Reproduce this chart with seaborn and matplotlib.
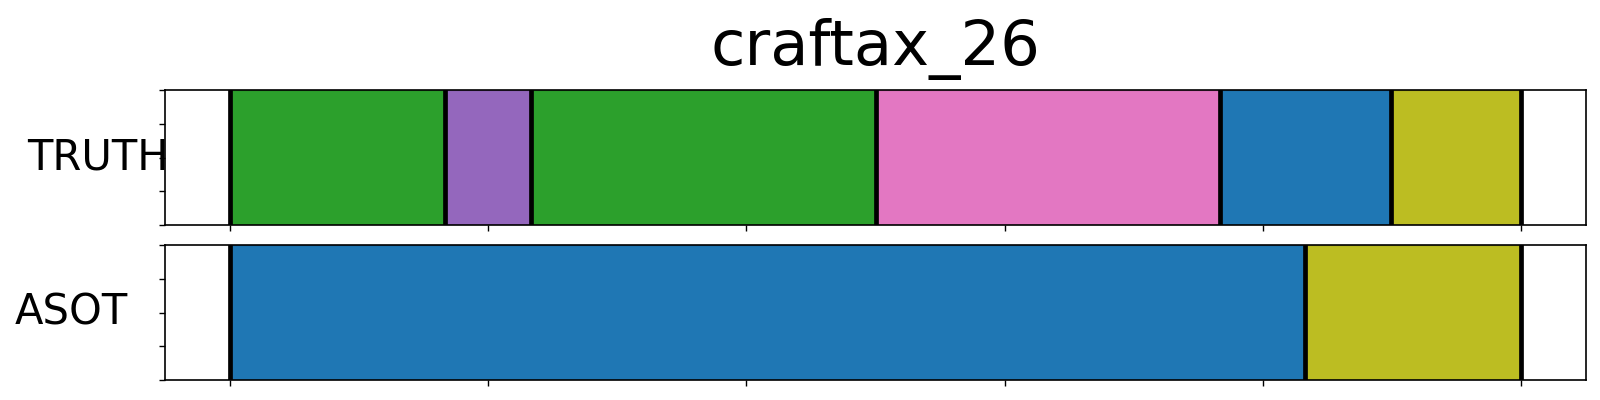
import numpy as np
import pandas as pd
import matplotlib
matplotlib.use("Agg")
import matplotlib.pyplot as plt
import seaborn as sns

sns.set_style("ticks", {"axes.edgecolor": "black", "xtick.color": "black",
                        "ytick.color": "black", "text.color": "black",
                        "axes.labelcolor": "black"})

title = "craftax_26"
n_frames = 250

# segment boundaries (frame index) and action labels for each row
truth_bounds = [0, 41.6, 58.4, 125, 191.6, 224.8, 250]
truth_labels = ["a2", "a4", "a2", "a6", "a0", "a8"]
asot_bounds = [0, 208.2, 250]
asot_labels = ["a0", "a8"]

palette = sns.color_palette("tab10")
colors = {f"a{i}": palette[i] for i in range(10)}

rows = [
    ("TRUTH", truth_bounds, truth_labels),
    ("ASOT", asot_bounds, asot_labels),
]

fig = plt.figure(figsize=(16, 4), dpi=100)
ax_top = fig.add_axes([165 / 1600, 1 - 225 / 400, 1421 / 1600, 135 / 400])
ax_bot = fig.add_axes([165 / 1600, 1 - 380 / 400, 1421 / 1600, 135 / 400])
label_x = [(97.5 - 165) / 1421, (71.5 - 165) / 1421]

for i, (ax, (name, bounds, labels)) in enumerate(zip([ax_top, ax_bot], rows)):
    seg = pd.DataFrame({"start": bounds[:-1], "end": bounds[1:], "label": labels})
    for _, r in seg.iterrows():
        ax.axvspan(r["start"], r["end"], facecolor=colors[r["label"]],
                   edgecolor=tuple(c * 0.85 for c in colors[r["label"]]), lw=1)
    for b in bounds:
        ax.axvline(b, color="black", lw=3.4)
    pad = 0.05 * n_frames
    ax.set_xlim(-pad, n_frames + pad)
    ax.set_ylim(0, 1)
    ax.set_xticks(np.arange(0, n_frames + 1, 50))
    ax.set_yticks(np.linspace(0, 1, 5))
    ax.set_xticklabels([])
    ax.set_yticklabels([])
    ax.tick_params(length=4, width=1)
    for s in ax.spines.values():
        s.set_linewidth(1.2)
    ax.set_ylabel(name, rotation=0, fontsize=30, ha="center", va="center", color="black")
    ax.yaxis.set_label_coords(label_x[i], 0.5)

ax_top.set_title(title, fontsize=45, pad=18, color="black")

fig.savefig("out.png", dpi=100)
